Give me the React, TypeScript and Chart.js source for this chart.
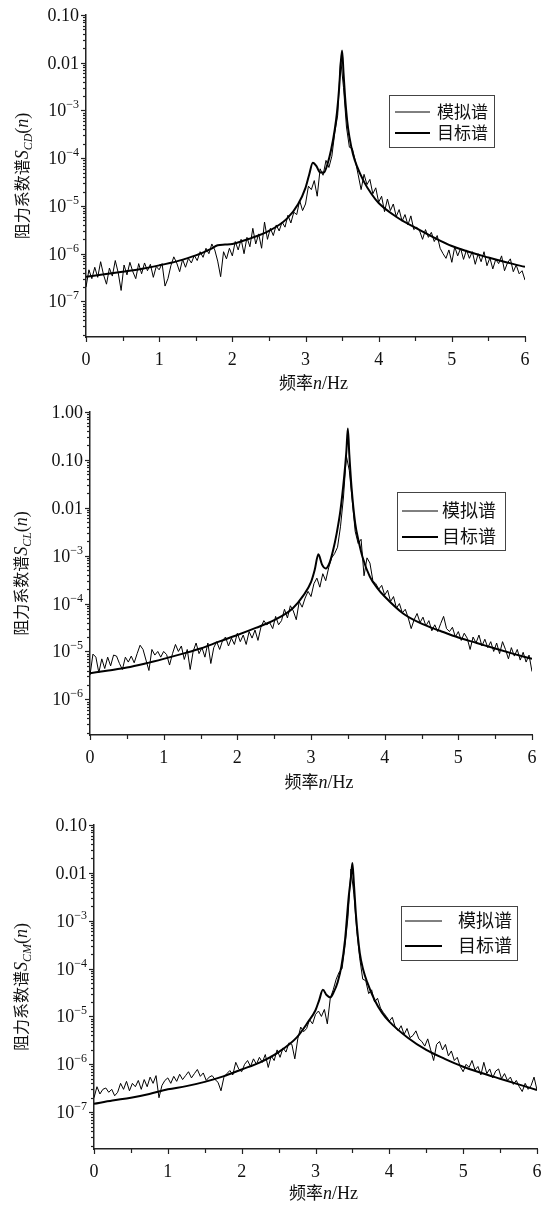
import React, { useEffect, useRef } from 'react';
import { Chart, registerables } from 'chart.js';

Chart.register(...registerables);

// ---------- DATA ----------
const SIM_FREQ = [
  0, 0.04, 0.08, 0.12, 0.16, 0.2, 0.24, 0.28, 0.32, 0.36,
  0.4, 0.44, 0.48, 0.52, 0.56, 0.6, 0.64, 0.68, 0.72, 0.76,
  0.8, 0.84, 0.88, 0.92, 0.96, 1, 1.04, 1.08, 1.12, 1.16,
  1.2, 1.24, 1.28, 1.32, 1.36, 1.4, 1.44, 1.48, 1.52, 1.56,
  1.6, 1.64, 1.68, 1.72, 1.76, 1.8, 1.84, 1.88, 1.92, 1.96,
  2, 2.04, 2.08, 2.12, 2.16, 2.2, 2.24, 2.28, 2.32, 2.36,
  2.4, 2.44, 2.48, 2.52, 2.56, 2.6, 2.64, 2.68, 2.72, 2.76,
  2.8, 2.84, 2.88, 2.92, 2.96, 3, 3.04, 3.08, 3.12, 3.16,
  3.2, 3.24, 3.28, 3.32, 3.36, 3.4, 3.44, 3.48, 3.52, 3.56,
  3.6, 3.64, 3.68, 3.72, 3.76, 3.8, 3.84, 3.88, 3.92, 3.96,
  4, 4.04, 4.08, 4.12, 4.16, 4.2, 4.24, 4.28, 4.32, 4.36,
  4.4, 4.44, 4.48, 4.52, 4.56, 4.6, 4.64, 4.68, 4.72, 4.76,
  4.8, 4.84, 4.88, 4.92, 4.96, 5, 5.04, 5.08, 5.12, 5.16,
  5.2, 5.24, 5.28, 5.32, 5.36, 5.4, 5.44, 5.48, 5.52, 5.56,
  5.6, 5.64, 5.68, 5.72, 5.76, 5.8, 5.84, 5.88, 5.92, 5.96,
  6,
];

// Panel 1: S_CD
const SIM_CD = [
  2.0e-7, 4.6e-7, 3.0e-7, 5.2e-7, 3.2e-7, 6.8e-7, 3.6e-7, 2.3e-7, 5.0e-7, 3.4e-7,
  7.2e-7, 4.0e-7, 1.7e-7, 5.8e-7, 3.6e-7, 6.6e-7, 4.2e-7, 3.0e-7, 6.2e-7, 3.8e-7,
  6.4e-7, 4.4e-7, 6.0e-7, 3.2e-7, 5.4e-7, 4.6e-7, 6.2e-7, 2.1e-7, 3.0e-7, 5.6e-7,
  8.6e-7, 6.4e-7, 4.2e-7, 7.6e-7, 5.2e-7, 8.0e-7, 6.4e-7, 9.2e-7, 7.2e-7, 1.1e-6,
  8.4e-7, 1.3e-6, 1.0e-6, 1.6e-6, 1.2e-6, 7.0e-7, 3.3e-7, 1.1e-6, 7.8e-7, 1.3e-6,
  9.0e-7, 1.8e-6, 1.2e-6, 2.0e-6, 1.0e-6, 2.2e-6, 1.4e-6, 3.4e-6, 1.6e-6, 2.6e-6,
  1.3e-6, 4.6e-6, 2.0e-6, 3.4e-6, 2.4e-6, 4.0e-6, 3.0e-6, 4.6e-6, 3.6e-6, 6.4e-6,
  4.4e-6, 7.4e-6, 6.6e-6, 1.3e-5, 8.0e-6, 1.1e-5, 2.6e-5, 2.2e-5, 3.4e-5, 1.6e-5,
  6.0e-5, 4.4e-5, 9.0e-5, 6.4e-5, 1.1e-4, 3.4e-4, 8.0e-4, 1.2e-2, 3.0e-3, 4.5e-4,
  1.7e-4, 1.6e-4, 9.0e-5, 4.5e-5, 2.2e-5, 4.6e-5, 2.8e-5, 3.6e-5, 1.8e-5, 2.4e-5,
  1.2e-5, 1.6e-5, 7.6e-6, 1.4e-5, 8.0e-6, 1.1e-5, 6.0e-6, 8.4e-6, 4.8e-6, 6.6e-6,
  4.0e-6, 6.2e-6, 3.2e-6, 3.6e-6, 3.0e-6, 2.0e-6, 3.2e-6, 2.2e-6, 2.8e-6, 1.8e-6,
  2.4e-6, 1.3e-6, 1.0e-6, 8.0e-7, 1.2e-6, 6.6e-7, 1.4e-6, 9.0e-7, 1.3e-6, 7.6e-7,
  1.2e-6, 8.0e-7, 1.1e-6, 6.0e-7, 1.0e-6, 6.8e-7, 1.1e-6, 5.6e-7, 8.2e-7, 4.8e-7,
  7.6e-7, 6.2e-7, 9.0e-7, 4.4e-7, 6.4e-7, 7.8e-7, 4.2e-7, 5.8e-7, 3.8e-7, 4.4e-7,
  2.8e-7,
];
const TGT_CD_FREQ = [
  0, 0.25, 0.5, 0.75, 1, 1.25, 1.5, 1.7, 1.8, 1.9,
  2.0, 2.25, 2.5, 2.75, 2.9, 3.0, 3.05, 3.1, 3.15, 3.2,
  3.25, 3.3, 3.35, 3.4, 3.43, 3.46, 3.48, 3.5, 3.52, 3.54,
  3.57, 3.6, 3.65, 3.7, 3.8, 3.9, 4.0, 4.25, 4.5, 4.75,
  5.0, 5.5, 6.0,
];
const TGT_CD = [
  3.3e-7, 3.7e-7, 4.2e-7, 4.8e-7, 5.7e-7, 7.0e-7, 9.2e-7, 1.25e-6, 1.5e-6, 1.55e-6,
  1.6e-6, 2.1e-6, 3.0e-6, 5.5e-6, 1.1e-5, 2.4e-5, 4.5e-5, 8.0e-5, 6.8e-5, 5.0e-5,
  5.0e-5, 7.5e-5, 1.5e-4, 4.0e-4, 9.0e-4, 3.0e-3, 9.0e-3, 1.8e-2, 6.0e-3, 2.0e-3,
  6.0e-4, 2.8e-4, 1.2e-4, 7.0e-5, 3.2e-5, 1.8e-5, 1.15e-5, 5.8e-6, 3.5e-6, 2.2e-6,
  1.45e-6, 8.3e-7, 5.3e-7,
];

// Panel 2: S_CL
const SIM_CL = [
  3.2e-6, 8.8e-6, 7.6e-6, 3.6e-6, 7.0e-6, 4.4e-6, 7.6e-6, 5.0e-6, 8.4e-6, 8.0e-6,
  5.6e-6, 4.2e-6, 7.6e-6, 6.0e-6, 8.0e-6, 5.8e-6, 9.0e-6, 1.35e-5, 1.1e-5, 6.6e-6,
  4.0e-6, 1.1e-5, 8.4e-6, 1.0e-5, 7.6e-6, 1.0e-5, 8.6e-6, 5.2e-6, 9.0e-6, 1.4e-5,
  1.0e-5, 1.3e-5, 6.8e-6, 1.1e-5, 4.2e-6, 1.0e-5, 1.5e-5, 9.0e-6, 1.2e-5, 7.6e-6,
  1.5e-5, 5.6e-6, 1.2e-5, 1.6e-5, 1.1e-5, 1.7e-5, 2.0e-5, 1.3e-5, 1.9e-5, 1.4e-5,
  2.4e-5, 1.6e-5, 2.2e-5, 1.4e-5, 2.6e-5, 1.9e-5, 2.8e-5, 1.7e-5, 3.2e-5, 4.4e-5,
  3.6e-5, 4.0e-5, 3.0e-5, 5.4e-5, 3.6e-5, 4.4e-5, 7.6e-5, 5.0e-5, 9.0e-5, 7.0e-5,
  4.6e-5, 1.1e-4, 8.4e-5, 1.3e-4, 1.8e-4, 1.4e-4, 2.6e-4, 3.4e-4, 2.2e-4, 4.2e-4,
  3.0e-4, 5.6e-4, 9.0e-4, 1.1e-3, 1.5e-3, 4.0e-3, 1.6e-2, 1.2e-1, 6.0e-2, 1.4e-2,
  3.2e-3, 1.8e-3, 2.2e-3, 3.8e-4, 9.0e-4, 7.0e-4, 3.0e-4, 2.6e-4, 2.0e-4, 2.4e-4,
  1.5e-4, 1.9e-4, 1.1e-4, 1.4e-4, 8.0e-5, 1.0e-4, 6.4e-5, 7.6e-5, 5.0e-5, 3.0e-5,
  4.6e-5, 6.2e-5, 4.0e-5, 5.2e-5, 3.4e-5, 4.4e-5, 2.7e-5, 3.6e-5, 2.6e-5, 3.8e-5,
  5.4e-5, 3.0e-5, 2.6e-5, 3.2e-5, 2.0e-5, 2.6e-5, 1.7e-5, 2.4e-5, 1.9e-5, 1.1e-5,
  2.0e-5, 1.5e-5, 2.2e-5, 1.3e-5, 1.8e-5, 1.2e-5, 1.6e-5, 1.0e-5, 1.5e-5, 9.0e-6,
  1.6e-5, 1.1e-5, 7.0e-6, 1.2e-5, 8.0e-6, 1.1e-5, 6.6e-6, 9.6e-6, 6.0e-6, 8.4e-6,
  3.8e-6,
];
const TGT_FREQ = [
  0, 0.25, 0.5, 0.75, 1, 1.25, 1.5, 1.75, 2, 2.25,
  2.5, 2.75, 2.9, 3.0, 3.05, 3.1, 3.15, 3.2, 3.25, 3.3,
  3.35, 3.4, 3.45, 3.48, 3.5, 3.52, 3.55, 3.6, 3.65, 3.7,
  3.8, 3.9, 4.0, 4.25, 4.5, 4.75, 5.0, 5.25, 5.5, 5.75,
  6.0,
];
const TGT_CL = [
  3.5e-6, 4.0e-6, 4.6e-6, 5.6e-6, 7.0e-6, 8.9e-6, 1.15e-5, 1.6e-5, 2.2e-5, 3.1e-5,
  4.5e-5, 7.9e-5, 1.5e-4, 2.8e-4, 5.0e-4, 1.07e-3, 6.5e-4, 5.4e-4, 7.0e-4, 1.3e-3,
  3.0e-3, 8.9e-3, 4.4e-2, 1.5e-1, 4.5e-1, 1.3e-1, 2.7e-2, 4.7e-3, 1.9e-3, 9.3e-4,
  3.6e-4, 2.1e-4, 1.4e-4, 6.2e-5, 3.8e-5, 2.7e-5, 1.95e-5, 1.5e-5, 1.15e-5, 8.9e-6,
  7.0e-6,
];

// Panel 3: S_CM
const SIM_CM = [
  2.0e-7, 3.4e-7, 2.4e-7, 3.0e-7, 3.2e-7, 2.6e-7, 3.0e-7, 2.2e-7, 2.6e-7, 4.0e-7,
  3.0e-7, 4.4e-7, 2.8e-7, 4.0e-7, 3.4e-7, 4.6e-7, 3.0e-7, 4.8e-7, 3.4e-7, 5.4e-7,
  4.0e-7, 5.8e-7, 2.0e-7, 3.6e-7, 4.6e-7, 5.2e-7, 4.0e-7, 5.6e-7, 4.4e-7, 6.2e-7,
  4.8e-7, 5.8e-7, 7.0e-7, 5.2e-7, 6.4e-7, 7.8e-7, 5.6e-7, 6.6e-7, 4.6e-7, 5.4e-7,
  5.8e-7, 4.8e-7, 4.2e-7, 2.8e-7, 5.4e-7, 6.4e-7, 7.4e-7, 6.0e-7, 1.1e-6, 8.0e-7,
  7.0e-7, 1.0e-6, 1.2e-6, 9.0e-7, 1.3e-6, 1.0e-6, 1.4e-6, 1.1e-6, 1.6e-6, 8.6e-7,
  1.5e-6, 1.2e-6, 2.0e-6, 1.4e-6, 2.2e-6, 1.8e-6, 2.8e-6, 2.6e-6, 1.3e-6, 3.4e-6,
  6.0e-6, 4.8e-6, 5.6e-6, 8.6e-6, 7.0e-6, 1.1e-5, 1.3e-5, 1.0e-5, 1.4e-5, 7.0e-6,
  2.4e-5, 3.6e-5, 6.0e-5, 8.4e-5, 1.0e-4, 3.0e-4, 1.2e-3, 1.2e-2, 3.6e-3, 6.0e-4,
  1.6e-4, 6.0e-5, 5.6e-5, 3.0e-5, 3.6e-5, 2.0e-5, 2.4e-5, 1.5e-5, 1.2e-5, 1.0e-5,
  8.0e-6, 9.6e-6, 6.0e-6, 5.0e-6, 6.4e-6, 4.2e-6, 5.6e-6, 3.6e-6, 4.0e-6, 5.0e-6,
  3.4e-6, 3.0e-6, 2.4e-6, 3.4e-6, 2.0e-6, 1.2e-6, 2.6e-6, 3.0e-6, 2.0e-6, 2.6e-6,
  1.5e-6, 1.9e-6, 1.2e-6, 1.4e-6, 9.0e-7, 7.0e-7, 1.0e-6, 8.6e-7, 1.2e-6, 7.6e-7,
  9.0e-7, 6.0e-7, 1.1e-6, 6.4e-7, 8.0e-7, 5.2e-7, 7.2e-7, 8.0e-7, 5.0e-7, 6.4e-7,
  4.6e-7, 5.4e-7, 3.8e-7, 4.6e-7, 3.4e-7, 2.7e-7, 4.0e-7, 3.0e-7, 3.6e-7, 5.4e-7,
  2.9e-7,
];
const TGT_CM = [
  1.5e-7, 1.75e-7, 2.0e-7, 2.4e-7, 3.0e-7, 3.5e-7, 4.3e-7, 5.6e-7, 7.8e-7, 1.1e-6,
  1.8e-6, 3.7e-6, 7.7e-6, 1.35e-5, 2.2e-5, 3.6e-5, 2.8e-5, 2.5e-5, 3.3e-5, 5.2e-5,
  1.1e-4, 4.0e-4, 3.2e-3, 8.0e-3, 1.6e-2, 6.0e-3, 1.2e-3, 2.1e-4, 9.0e-5, 5.2e-5,
  2.2e-5, 1.2e-5, 7.8e-6, 3.6e-6, 2.0e-6, 1.3e-6, 8.9e-7, 6.6e-7, 5.0e-7, 3.8e-7,
  2.9e-7,
];

const X_TICKS = [0, 1, 2, 3, 4, 5, 6];
const X_MINOR = [0.5, 1.5, 2.5, 3.5, 4.5, 5.5];
const Y_TICKS_A = [0.1, 0.01, 1e-3, 1e-4, 1e-5, 1e-6, 1e-7];
const Y_LABELS_A = ['0.10', '0.01', '10^-3', '10^-4', '10^-5', '10^-6', '10^-7'];
const Y_TICKS_B = [1, 0.1, 0.01, 1e-3, 1e-4, 1e-5, 1e-6];
const Y_LABELS_B = ['1.00', '0.10', '0.01', '10^-3', '10^-4', '10^-5', '10^-6'];
const SERIES_NAMES = ['模拟谱', '目标谱'];

// ---------- STYLE / LAYOUT ----------
const SERIF = '"Liberation Serif", "Times New Roman", serif';
const CJK = '"Noto Sans CJK SC", sans-serif';
const INK = '#111';

type Run = { t: string; f: string; dy?: number };

function drawRuns(ctx: CanvasRenderingContext2D, runs: Run[], x: number, y: number, align: 'left' | 'center' | 'right') {
  let w = 0;
  for (const r of runs) { ctx.font = r.f; w += ctx.measureText(r.t).width; }
  let cx = align === 'left' ? x : align === 'center' ? x - w / 2 : x - w;
  ctx.textAlign = 'left';
  ctx.textBaseline = 'alphabetic';
  for (const r of runs) {
    ctx.font = r.f;
    ctx.fillText(r.t, cx, y + (r.dy || 0));
    cx += ctx.measureText(r.t).width;
  }
}

type Panel = {
  top: number; height: number;
  area: { left: number; right: number; top: number; bottom: number };
  yMin: number; yMax: number;
  yTicks: number[]; yLabels: string[];
  sub: string; titleX: number; xTitleDy: number;
  legend: { box: number[]; line: number[]; rows: number[]; textX: number; size: number };
  sim: number[]; tgtFreq: number[]; tgt: number[];
};

const PANELS: Panel[] = [
  {
    top: 0, height: 400,
    area: { left: 86, right: 525, top: 15, bottom: 337 },
    yMin: 1.8e-8, yMax: 0.1, yTicks: Y_TICKS_A, yLabels: Y_LABELS_A,
    sub: 'CD', titleX: 22, xTitleDy: 52,
    legend: { box: [389, 95, 494, 147], line: [395, 430], rows: [112, 133], textX: 437, size: 17 },
    sim: SIM_CD, tgtFreq: TGT_CD_FREQ, tgt: TGT_CD,
  },
  {
    top: 400, height: 400,
    area: { left: 90, right: 532, top: 12, bottom: 335 },
    yMin: 1.8e-7, yMax: 1, yTicks: Y_TICKS_B, yLabels: Y_LABELS_B,
    sub: 'CL', titleX: 21, xTitleDy: 53,
    legend: { box: [397, 92, 505, 150], line: [402, 438], rows: [111, 137], textX: 442, size: 18 },
    sim: SIM_CL, tgtFreq: TGT_FREQ, tgt: TGT_CL,
  },
  {
    top: 800, height: 408,
    area: { left: 94, right: 537, top: 25, bottom: 349 },
    yMin: 1.7e-8, yMax: 0.1, yTicks: Y_TICKS_A, yLabels: Y_LABELS_A,
    sub: 'CM', titleX: 21, xTitleDy: 50,
    legend: { box: [401, 106, 517, 160], line: [405, 442], rows: [121, 146], textX: 458, size: 18 },
    sim: SIM_CM, tgtFreq: TGT_FREQ, tgt: TGT_CM,
  },
];

function makeDecor(p: Panel) {
  return {
    id: 'decor',
    afterDraw(chart: any) {
      const ctx: CanvasRenderingContext2D = chart.ctx;
      const xs = chart.scales.x;
      const ys = chart.scales.y;
      const a = chart.chartArea;
      ctx.save();
      ctx.strokeStyle = '#222';
      ctx.fillStyle = INK;
      ctx.lineWidth = 1.2;

      // y tick marks (major + log minor)
      const e0 = Math.floor(Math.log10(p.yMin));
      const e1 = Math.ceil(Math.log10(p.yMax));
      for (let e = e0; e <= e1; e++) {
        for (let m = 1; m <= 9; m++) {
          const v = m * Math.pow(10, e);
          if (v < p.yMin * 0.999 || v > p.yMax * 1.001) continue;
          const py = Math.round(ys.getPixelForValue(v)) + 0.5;
          const len = m === 1 ? 5 : 3;
          ctx.beginPath();
          ctx.moveTo(a.left - len, py);
          ctx.lineTo(a.left, py);
          ctx.stroke();
        }
      }
      // x tick marks
      for (const t of X_TICKS) {
        const px = Math.round(xs.getPixelForValue(t)) + 0.5;
        ctx.beginPath(); ctx.moveTo(px, a.bottom); ctx.lineTo(px, a.bottom + 5); ctx.stroke();
      }
      for (const t of X_MINOR) {
        const px = Math.round(xs.getPixelForValue(t)) + 0.5;
        ctx.beginPath(); ctx.moveTo(px, a.bottom); ctx.lineTo(px, a.bottom + 4); ctx.stroke();
      }

      // y tick labels
      p.yTicks.forEach((v, i) => {
        const lab = p.yLabels[i];
        const py = ys.getPixelForValue(v);
        let runs: Run[];
        if (lab.includes('^')) {
          const [b, ex] = lab.split('^');
          runs = [
            { t: b, f: `18px ${SERIF}` },
            { t: ex.replace('-', '\u2212'), f: `12px ${SERIF}`, dy: -8 },
          ];
        } else {
          runs = [{ t: lab, f: `18px ${SERIF}` }];
        }
        drawRuns(ctx, runs, a.left - 7, py + 6, 'right');
      });

      // x tick labels
      for (const t of X_TICKS) {
        const px = xs.getPixelForValue(t);
        drawRuns(ctx, [{ t: String(t), f: `18px ${SERIF}` }], px, a.bottom + 28, 'center');
      }

      // x title
      const cxm = (a.left + a.right) / 2 + 8;
      drawRuns(ctx, [
        { t: '频率', f: `17px ${CJK}` },
        { t: 'n', f: `italic 18px ${SERIF}` },
        { t: '/Hz', f: `18px ${SERIF}` },
      ], cxm, a.bottom + p.xTitleDy, 'center');

      // y title (rotated)
      ctx.save();
      ctx.translate(p.titleX, (a.top + a.bottom) / 2);
      ctx.rotate(-Math.PI / 2);
      drawRuns(ctx, [
        { t: '阻力系数谱', f: `16px ${CJK}` },
        { t: 'S', f: `italic 18px ${SERIF}` },
        { t: p.sub, f: `italic 12px ${SERIF}`, dy: 4 },
        { t: '(', f: `18px ${SERIF}` },
        { t: 'n', f: `italic 18px ${SERIF}` },
        { t: ')', f: `18px ${SERIF}` },
      ], 0, 6, 'center');
      ctx.restore();

      // legend
      const L = p.legend;
      ctx.strokeStyle = '#444';
      ctx.lineWidth = 1;
      ctx.strokeRect(L.box[0] + 0.5, L.box[1] + 0.5, L.box[2] - L.box[0], L.box[3] - L.box[1]);
      ctx.strokeStyle = '#000';
      L.rows.forEach((ry, i) => {
        ctx.lineWidth = i === 0 ? 1 : 2;
        ctx.beginPath();
        ctx.moveTo(L.line[0], ry);
        ctx.lineTo(L.line[1], ry);
        ctx.stroke();
        drawRuns(ctx, [{ t: SERIES_NAMES[i], f: `${L.size}px ${CJK}` }], L.textX, ry + 6, 'left');
      });
      ctx.restore();
    },
  };
}

function SpectrumPanel({ p }: { p: Panel }) {
  const ref = useRef<HTMLCanvasElement>(null);
  useEffect(() => {
    const W = 550;
    const chart = new Chart(ref.current as HTMLCanvasElement, {
      type: 'line',
      data: {
        datasets: [
          {
            label: SERIES_NAMES[0],
            data: SIM_FREQ.map((f, i) => ({ x: f, y: p.sim[i] })),
            borderColor: '#000',
            borderWidth: 1,
            pointRadius: 0,
            tension: 0,
            fill: false,
          },
          {
            label: SERIES_NAMES[1],
            data: p.tgtFreq.map((f, i) => ({ x: f, y: p.tgt[i] })),
            borderColor: '#000',
            borderWidth: 2,
            pointRadius: 0,
            cubicInterpolationMode: 'monotone',
            fill: false,
          },
        ],
      } as any,
      options: {
        responsive: false,
        animation: false,
        devicePixelRatio: 1,
        events: [],
        layout: { padding: { left: 0, top: p.area.top, right: W - p.area.right, bottom: 0 } },
        plugins: { legend: { display: false }, tooltip: { enabled: false } },
        scales: {
          x: {
            type: 'linear', min: 0, max: 6, position: 'bottom',
            grid: { display: false, drawTicks: false },
            border: { display: true, color: '#222', width: 1.5 },
            ticks: { display: false },
            afterFit: (s: any) => { s.height = p.height - p.area.bottom; },
          },
          y: {
            type: 'logarithmic', min: p.yMin, max: p.yMax, position: 'left',
            grid: { display: false, drawTicks: false },
            border: { display: true, color: '#222', width: 1.5 },
            ticks: { display: false },
            afterFit: (s: any) => { s.width = p.area.left; },
          },
        },
      } as any,
      plugins: [makeDecor(p)],
    });
    return () => chart.destroy();
  }, [p]);
  return (
    <canvas
      ref={ref}
      width={550}
      height={p.height}
      style={{ position: 'absolute', left: 0, top: p.top, width: 550, height: p.height, display: 'block' }}
    />
  );
}

export default function App() {
  return (
    <div style={{ position: 'absolute', left: 0, top: 0, width: 550, height: 1208, background: '#fff' }}>
      {PANELS.map((p, i) => <SpectrumPanel key={i} p={p} />)}
    </div>
  );
}
